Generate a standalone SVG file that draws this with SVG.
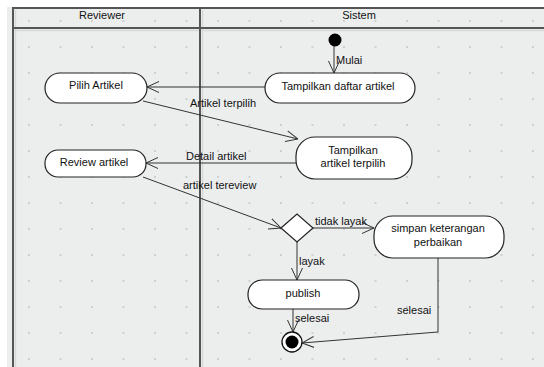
<svg xmlns="http://www.w3.org/2000/svg" width="544" height="367" viewBox="0 0 544 367">
<defs>
<style>
text{font-family:"Liberation Sans",Arial,sans-serif;font-size:11px;fill:#111}
.c{text-anchor:middle}
.node{fill:#fff;stroke:#222;stroke-width:1.2}
.edge{fill:none;stroke:#333;stroke-width:1}
.lane{stroke:#555;stroke-width:2}
.shadow{stroke:#d6d8d8;stroke-width:1.5}
</style>
<pattern id="grid" patternUnits="userSpaceOnUse" x="28" y="20" width="31.5" height="26">
<rect x="0" y="0" width="2" height="2" fill="#cdd0d0"/>
</pattern>
<marker id="arr" viewBox="0 0 12 12" refX="12" refY="6" markerWidth="12" markerHeight="12" orient="auto" markerUnits="userSpaceOnUse">
<path d="M0,0.5 L12,6 L0,11.5" fill="none" stroke="#333" stroke-width="1"/>
</marker>
</defs>
<rect width="544" height="367" fill="#fff"/>
<rect x="7" y="7" width="537" height="360" fill="#eceeee"/>
<rect x="7" y="7" width="537" height="360" fill="url(#grid)"/>
<g id="lanes">
<line class="shadow" x1="15.5" y1="10" x2="15.5" y2="367"/>
<line class="shadow" x1="202.5" y1="10" x2="202.5" y2="367"/>
<line class="shadow" x1="13" y1="30.5" x2="544" y2="30.5"/>
<line class="lane" x1="13" y1="8" x2="544" y2="8"/>
<line class="lane" x1="13" y1="28" x2="544" y2="28"/>
<line class="lane" x1="13" y1="7" x2="13" y2="367"/>
<line class="lane" x1="200" y1="7" x2="200" y2="367"/>
<text class="c" x="102" y="19">Reviewer</text>
<text class="c" x="359" y="19">Sistem</text>
</g>
<g id="connectors">
<path class="edge" d="M334,46 L334,73" marker-end="url(#arr)"/>
<path class="edge" d="M265,87 L147,87" marker-end="url(#arr)"/>
<path class="edge" d="M143,101 L298,139" marker-end="url(#arr)"/>
<path class="edge" d="M296,163 L146,163" marker-end="url(#arr)"/>
<path class="edge" d="M143,177 L281,228" marker-end="url(#arr)"/>
<path class="edge" d="M313,228 L374,228" marker-end="url(#arr)"/>
<path class="edge" d="M297,242 L297,280" marker-end="url(#arr)"/>
<path class="edge" d="M293,309 L293,332" marker-end="url(#arr)"/>
<path class="edge" d="M438,258 L438,332 L302,343" marker-end="url(#arr)"/>
<text x="336" y="64">Mulai</text>
<text x="190" y="107">Artikel terpilih</text>
<text x="186" y="160">Detail artikel</text>
<text x="183" y="189">artikel tereview</text>
<text x="315" y="225">tidak layak</text>
<text x="299" y="265">layak</text>
<text x="295" y="322">selesai</text>
<text x="397" y="314">selesai</text>
</g>
<g id="start"><circle cx="335" cy="40" r="6.5" fill="#000"/></g>
<g id="tampilkan-daftar">
<rect class="node" x="265" y="73" width="150" height="30" rx="15"/>
<text class="c" x="338" y="90">Tampilkan daftar artikel</text>
</g>
<g id="pilih-artikel">
<rect class="node" x="45" y="73" width="102" height="30" rx="15"/>
<text class="c" x="96" y="89">Pilih Artikel</text>
</g>
<g id="tampilkan-terpilih">
<rect class="node" x="296" y="137" width="116" height="42" rx="19"/>
<text class="c" x="353" y="154">Tampilkan</text>
<text class="c" x="353" y="167">artikel terpilih</text>
</g>
<g id="review-artikel">
<rect class="node" x="45" y="150" width="101" height="27" rx="13"/>
<text class="c" x="94" y="166">Review artikel</text>
</g>
<g id="decision">
<polygon class="node" points="281,228 297,214 313,228 297,242"/>
</g>
<g id="simpan">
<rect class="node" x="374" y="216" width="130" height="42" rx="19"/>
<text class="c" x="438" y="232">simpan keterangan</text>
<text class="c" x="438" y="246">perbaikan</text>
</g>
<g id="publish">
<rect class="node" x="248" y="280" width="111" height="29" rx="14"/>
<text class="c" x="303" y="297">publish</text>
</g>
<g id="end">
<circle cx="292" cy="342" r="10" fill="#fff" stroke="#111" stroke-width="1.3"/>
<circle cx="292" cy="342" r="6.5" fill="#000"/>
</g>
</svg>
